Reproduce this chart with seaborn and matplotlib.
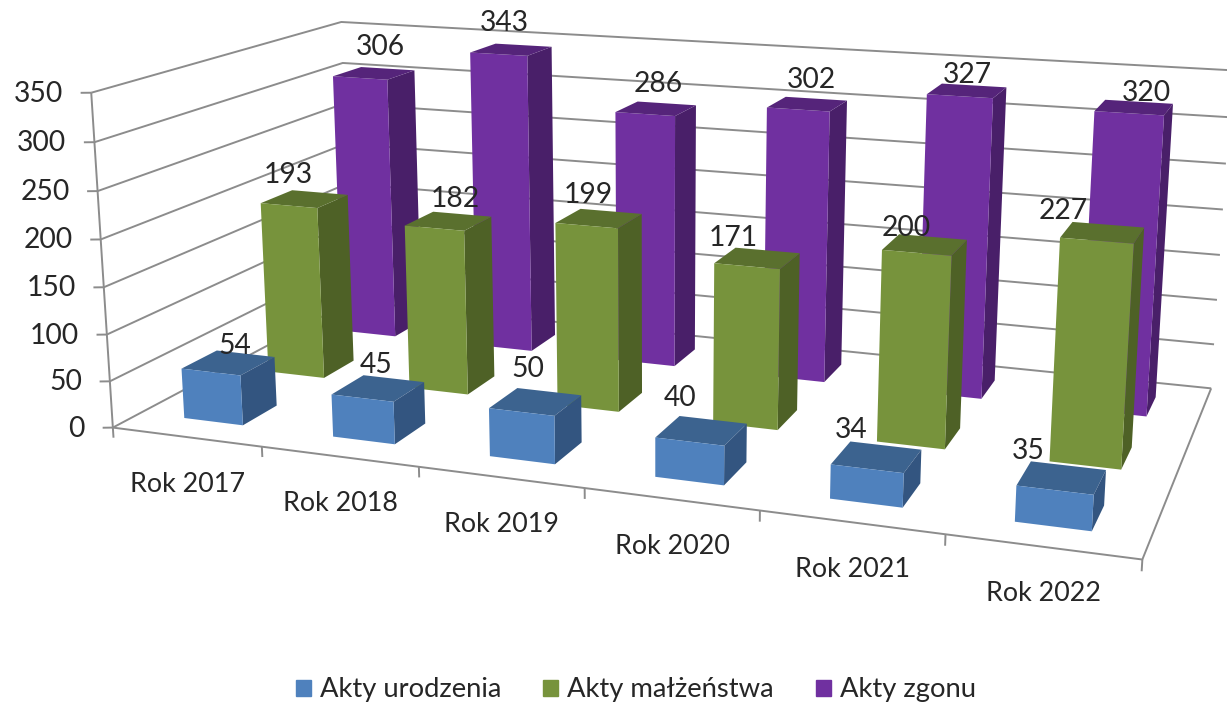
import matplotlib
matplotlib.use('Agg')
import matplotlib.pyplot as plt
from matplotlib.patches import Patch
import numpy as np
import seaborn as sns

years = ['Rok 2017', 'Rok 2018', 'Rok 2019', 'Rok 2020', 'Rok 2021', 'Rok 2022']
series_names = ['Akty urodzenia', 'Akty małżeństwa', 'Akty zgonu']
urodzenia = [54, 45, 50, 40, 34, 35]
malzenstwa = [193, 182, 199, 171, 200, 227]
zgony = [306, 343, 286, 302, 327, 320]
z_ticks = [0, 50, 100, 150, 200, 250, 300, 350]

W, H = 1227, 706
FRONT = ['#4F81BD', '#77933C', '#7030A0']
TOP = ['#3C638F', '#5A702E', '#55247A']
SIDE = ['#335580', '#4E6126', '#491F69']
TEXT = '#262626'
GRID = '#8C8C8C'

sns.set_theme(style='white', font='Lato')
plt.rcParams['font.family'] = ['Lato', 'DejaVu Sans']

# camera: (x, y, z) -> picture pixel, fitted to corners
calib = [
    (0, 0, 0, 113, 427), (0, 0, 350, 91, 93), (1, 0, 0, 262, 448), (2, 0, 0, 418, 467),
    (6, 0, 0, 1142, 558), (6, 3, 0, 1211, 388), (6, 3, 100, 1217, 300), (6, 3, 200, 1223, 209),
    (6, 3, 300, 1229, 117), (6, 3, 350, 1232, 71), (0, 3, 350, 342, 22), (0, 3, 300, 342, 63),
    (0.3, 0.3, 0, 184, 418), (0.7, 0.3, 0, 243, 425), (0.3, 0.3, 54, 182, 368), (0.7, 0.7, 0, 277, 405),
    (5.3, 0.3, 0, 1015, 522), (5.7, 0.3, 0, 1092, 530), (5.3, 0.3, 35, 1017, 487), (5.7, 0.7, 0, 1104, 507),
    (5.3, 2.3, 320, 1093, 110), (5.7, 2.3, 320, 1165, 116), (5.7, 2.7, 320, 1173, 104),
    (0.3, 2.3, 306, 332, 76), (0.7, 2.3, 306, 388, 80), (0.7, 2.7, 306, 415, 70), (0.7, 2.3, 0, 395, 337),
]
rows, rhs = [], []
for X, Y, Z, u, v in calib:
    rows.append([X, Y, Z, 1, 0, 0, 0, 0, -u * X, -u * Y, -u * Z])
    rows.append([0, 0, 0, 0, X, Y, Z, 1, -v * X, -v * Y, -v * Z])
    rhs += [u, v]
p = np.linalg.lstsq(np.array(rows, float), np.array(rhs, float), rcond=None)[0]
P = np.append(p, 1).reshape(3, 4)


def to_px(x, y, z):
    u, v, w = P @ np.array([x, y, z, 1.0])
    return u / w, v / w


fig = plt.figure(figsize=(W / 100, H / 100), dpi=100)
ax = fig.add_axes([0, 0, 1, 1], projection='3d', computed_zorder=False)
ax.set_axis_off()
ax.apply_aspect = lambda position=None: None


def camera():
    # pixel rows -> display -> the 2d data space the 3d axes draws in
    disp = np.array([P[0], H * P[2] - P[1], P[2]])
    data = np.linalg.inv(ax.transData.get_affine().get_matrix()) @ disp
    return np.array([data[0], data[1], [0, 0, 0, -1], P[2]])


ax.get_proj = camera


def line(xs, ys, zs, lw=1.4):
    ax.plot(xs, ys, zs, color=GRID, lw=lw, zorder=1, solid_capstyle='butt')


# walls and floor
for z in z_ticks:
    line([0, 0, 6], [0, 3, 3], [z, z, z])
    line([-0.055, 0], [-0.023, 0], [z, z])
line([0, 0], [0, 0], [0, 350])
line([0, 6, 6], [0, 0, 3], [0, 0, 0])
for i in range(7):
    line([i, i], [0, 0], [0, -11])

# bars, back row first
values = [urodzenia, malzenstwa, zgony]
clear = (0, 0, 0, 0)
for j in [2, 1, 0]:
    for i, val in enumerate(values[j]):
        faces = [clear, TOP[j], FRONT[j], clear, clear, SIDE[j]]
        ax.bar3d([i + 0.3], [j + 0.3], [0], 0.4, 0.4, val, color=faces, shade=False,
                 edgecolor='none', zorder=10 + (2 - j) * 10 + i)

# value labels: pixel shift from the centre of each bar top
label_shift = [
    [(6, -17), (-2, -23), (-8, -33), (-21, -33), (-25, -27), (-33, -27)],
    [(-16, -24), (7, -22), (-11, -23), (-24, -20), (-19, -17), (-39, -22)],
    [(6, -26), (-7, -27), (2, -25), (4, -24), (0, -16), (12, -14)],
]


def px_text(u, v, s, **kw):
    fig.text(u / W, 1 - v / H, s, color=TEXT, zorder=100, **kw)


for j in range(3):
    for i, val in enumerate(values[j]):
        u, v = to_px(i + 0.5, j + 0.5, val)
        du, dv = label_shift[j][i]
        px_text(u + du, v + dv, str(val), fontsize=20.3, ha='center', va='center')

# tick labels
for z in z_ticks:
    u, v = to_px(0, 0, z)
    px_text(u - 28, v + 1, str(z), fontsize=20.3, ha='right', va='center')
for i, name in enumerate(years):
    u, v = to_px(i + 0.5, 0, 0)
    px_text(u + 1, v + 47, name, fontsize=19.4, ha='center', va='center')

handles = [Patch(color=c, label=n) for c, n in zip(sns.color_palette(FRONT), series_names)]
fig.legend(handles=handles, loc='center', bbox_to_anchor=(636 / W, 1 - 690 / H), ncols=3,
           frameon=False, fontsize=19.7, handlelength=0.55, handleheight=0.55,
           handletextpad=0.33, columnspacing=1.53, labelcolor=TEXT)

fig.savefig('out.png', dpi=100)
